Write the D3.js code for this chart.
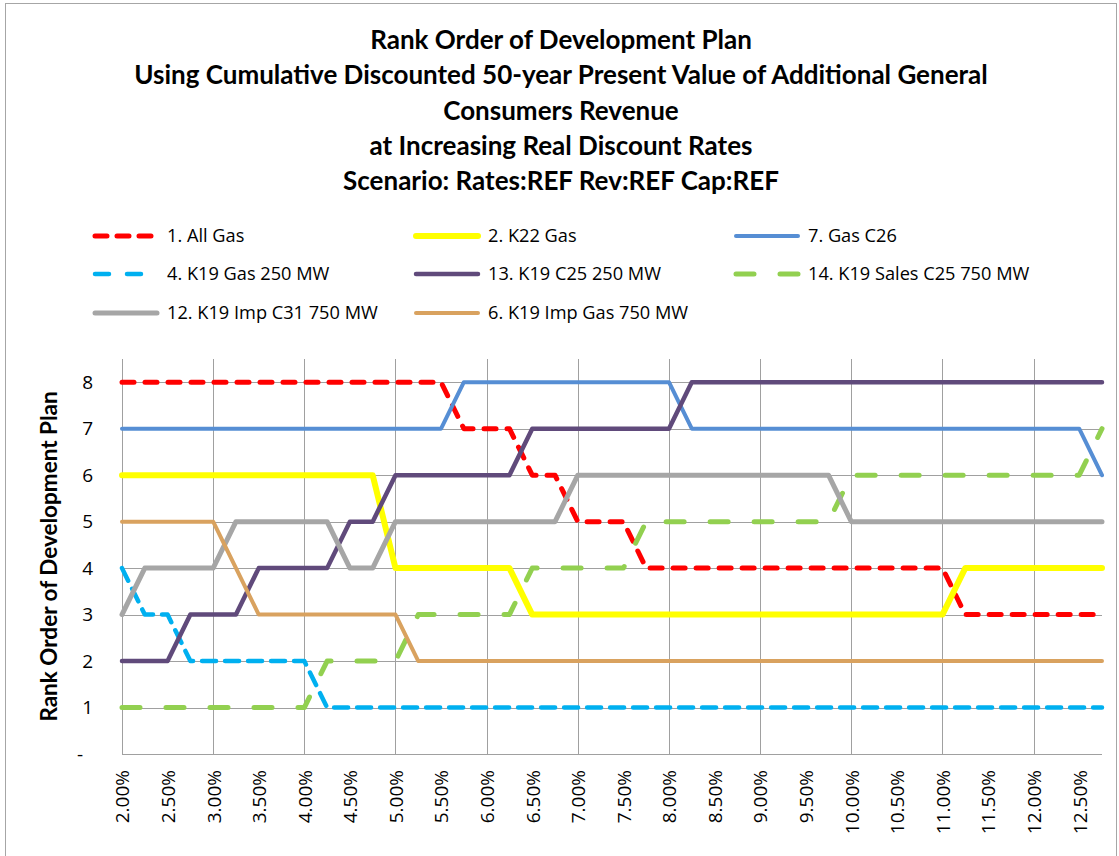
<!DOCTYPE html>
<html>
<head>
<meta charset="utf-8">
<script src="https://cdn.jsdelivr.net/npm/d3@7"></script>
<style>
  html, body { margin: 0; padding: 0; background: #fff; }
  svg { display: block; }
</style>
</head>
<body>
<div id="chart"></div>
<script>

// DATA
// --------------------------------------------------------------------------

var titleLines = [
  'Rank Order of Development Plan',
  'Using Cumulative Discounted 50-year Present Value of Additional General',
  'Consumers Revenue',
  'at Increasing Real Discount Rates',
  'Scenario: Rates:REF Rev:REF Cap:REF'
];

var yTitle = 'Rank Order of Development Plan';

var rates = [
  '2.00%', '2.25%', '2.50%', '2.75%', '3.00%', '3.25%', '3.50%', '3.75%',
  '4.00%', '4.25%', '4.50%', '4.75%', '5.00%', '5.25%', '5.50%', '5.75%',
  '6.00%', '6.25%', '6.50%', '6.75%', '7.00%', '7.25%', '7.50%', '7.75%',
  '8.00%', '8.25%', '8.50%', '8.75%', '9.00%', '9.25%', '9.50%', '9.75%',
  '10.00%', '10.25%', '10.50%', '10.75%', '11.00%', '11.25%', '11.50%',
  '11.75%', '12.00%', '12.25%', '12.50%', '12.75%'
];

var rankTicks = [0, 1, 2, 3, 4, 5, 6, 7, 8];

var allGas = [
  8, 8, 8, 8, 8, 8, 8, 8, 8, 8, 8, 8, 8, 8, 8, 7, 7, 7, 6, 6, 5, 5,
  5, 4, 4, 4, 4, 4, 4, 4, 4, 4, 4, 4, 4, 4, 4, 3, 3, 3, 3, 3, 3, 3
];
var k22Gas = [
  6, 6, 6, 6, 6, 6, 6, 6, 6, 6, 6, 6, 4, 4, 4, 4, 4, 4, 3, 3, 3, 3,
  3, 3, 3, 3, 3, 3, 3, 3, 3, 3, 3, 3, 3, 3, 3, 4, 4, 4, 4, 4, 4, 4
];
var gasC26 = [
  7, 7, 7, 7, 7, 7, 7, 7, 7, 7, 7, 7, 7, 7, 7, 8, 8, 8, 8, 8, 8, 8,
  8, 8, 8, 7, 7, 7, 7, 7, 7, 7, 7, 7, 7, 7, 7, 7, 7, 7, 7, 7, 7, 6
];
var k19Gas250 = [
  4, 3, 3, 2, 2, 2, 2, 2, 2, 1, 1, 1, 1, 1, 1, 1, 1, 1, 1, 1, 1, 1,
  1, 1, 1, 1, 1, 1, 1, 1, 1, 1, 1, 1, 1, 1, 1, 1, 1, 1, 1, 1, 1, 1
];
var k19C25250 = [
  2, 2, 2, 3, 3, 3, 4, 4, 4, 4, 5, 5, 6, 6, 6, 6, 6, 6, 7, 7, 7, 7,
  7, 7, 7, 8, 8, 8, 8, 8, 8, 8, 8, 8, 8, 8, 8, 8, 8, 8, 8, 8, 8, 8
];
var k19SalesC25750 = [
  1, 1, 1, 1, 1, 1, 1, 1, 1, 2, 2, 2, 2, 3, 3, 3, 3, 3, 4, 4, 4, 4,
  4, 5, 5, 5, 5, 5, 5, 5, 5, 5, 6, 6, 6, 6, 6, 6, 6, 6, 6, 6, 6, 7
];
var k19ImpC31750 = [
  3, 4, 4, 4, 4, 5, 5, 5, 5, 5, 4, 4, 5, 5, 5, 5, 5, 5, 5, 5, 6, 6,
  6, 6, 6, 6, 6, 6, 6, 6, 6, 6, 5, 5, 5, 5, 5, 5, 5, 5, 5, 5, 5, 5
];
var k19ImpGas750 = [
  5, 5, 5, 5, 5, 4, 3, 3, 3, 3, 3, 3, 3, 2, 2, 2, 2, 2, 2, 2, 2, 2,
  2, 2, 2, 2, 2, 2, 2, 2, 2, 2, 2, 2, 2, 2, 2, 2, 2, 2, 2, 2, 2, 2
];

var seriesNames = [
  '1. All Gas', '2. K22 Gas', '7. Gas C26',
  '4. K19 Gas 250 MW', '13. K19 C25 250 MW', '14. K19 Sales C25 750 MW',
  '12. K19 Imp C31 750 MW', '6. K19 Imp Gas 750 MW'
];

var seriesValues = [
  allGas, k22Gas, gasC26, k19Gas250, k19C25250, k19SalesC25750,
  k19ImpC31750, k19ImpGas750
];


// STYLE
// --------------------------------------------------------------------------

var styles = [
  { color: '#ff0000', width: 5,   dash: '12,11', legendDash: '12,10' },
  { color: '#ffff00', width: 6,   dash: null,    legendDash: null },
  { color: '#568ed4', width: 4,   dash: null,    legendDash: null },
  { color: '#00b0f0', width: 4.5, dash: '14,9',  legendDash: '14,18' },
  { color: '#604a7b', width: 4.5, dash: null,    legendDash: null },
  { color: '#92d050', width: 5,   dash: '18,26', legendDash: '18,26' },
  { color: '#a6a6a6', width: 5,   dash: null,    legendDash: null },
  { color: '#d9a25f', width: 4,   dash: null,    legendDash: null }
];

var W = 1119, H = 856;
var plot = { left: 122, right: 1102, top: 359, bottom: 754 };
var gridColor = '#a0a0a0';
var tickFont = '"Open Sans", sans-serif';
var titleFont = 'Lato, "Open Sans", sans-serif';


// CHART
// --------------------------------------------------------------------------

var svg = d3.select('#chart').append('svg')
  .attr('width', W)
  .attr('height', H);

// Outer chart border.
svg.append('rect')
  .attr('x', 5.5).attr('y', 3.5)
  .attr('width', 1111).attr('height', 870)
  .attr('fill', '#fff')
  .attr('stroke', '#a6a6a6');

var x = d3.scalePoint()
  .domain(rates)
  .range([plot.left, plot.right]);

var y = d3.scaleLinear()
  .domain([0, 8.5])
  .range([plot.bottom, plot.top]);

// Title block.
svg.append('g')
  .selectAll('text')
  .data(titleLines)
  .join('text')
  .attr('x', 561)
  .attr('y', function(d, i) { return 49 + i * 35.3; })
  .attr('text-anchor', 'middle')
  .style('font-family', titleFont)
  .style('font-weight', 'bold')
  .style('font-size', '26px')
  .style('fill', '#000')
  .text(function(d) { return d; });

// Horizontal gridlines.
svg.append('g')
  .selectAll('line')
  .data(rankTicks.filter(function(d) { return d > 0; }))
  .join('line')
  .attr('x1', plot.left).attr('x2', plot.right)
  .attr('y1', function(d) { return Math.round(y(d)) + 0.5; })
  .attr('y2', function(d) { return Math.round(y(d)) + 0.5; })
  .attr('stroke', gridColor);

// Vertical gridlines, one per full percent.
svg.append('g')
  .selectAll('line')
  .data(rates.filter(function(d, i) { return i % 4 === 0; }))
  .join('line')
  .attr('x1', function(d) { return Math.round(x(d)) + 0.5; })
  .attr('x2', function(d) { return Math.round(x(d)) + 0.5; })
  .attr('y1', plot.top).attr('y2', plot.bottom)
  .attr('stroke', gridColor);

// Axis lines.
svg.append('line')
  .attr('x1', plot.left + 0.5).attr('x2', plot.left + 0.5)
  .attr('y1', plot.top).attr('y2', plot.bottom)
  .attr('stroke', gridColor);
svg.append('line')
  .attr('x1', plot.left).attr('x2', plot.right)
  .attr('y1', plot.bottom + 0.5).attr('y2', plot.bottom + 0.5)
  .attr('stroke', gridColor);

// X axis labels (every other rate).
var xAxis = svg.append('g')
  .attr('transform', 'translate(0,' + plot.bottom + ')')
  .call(d3.axisBottom(x)
    .tickValues(rates.filter(function(d, i) { return i % 2 === 0; }))
    .tickSize(0));
xAxis.select('.domain').remove();
xAxis.selectAll('text')
  .attr('x', -16)
  .attr('y', 0)
  .attr('dy', '0.36em')
  .attr('transform', 'rotate(-90)')
  .style('text-anchor', 'end')
  .style('font-family', tickFont)
  .style('font-size', '19px')
  .style('fill', '#000');

// Y axis labels.
var yAxis = svg.append('g')
  .attr('transform', 'translate(' + plot.left + ',0)')
  .call(d3.axisLeft(y)
    .tickValues(rankTicks)
    .tickSize(0)
    .tickPadding(29)
    .tickFormat(function(d) { return d === 0 ? '-\u00a0\u00a0' : d; }));
yAxis.select('.domain').remove();
yAxis.selectAll('text')
  .style('font-family', tickFont)
  .style('font-size', '19px')
  .style('fill', '#000');

// Y axis title.
svg.append('text')
  .attr('transform', 'translate(57,' + ((plot.top + plot.bottom) / 2) +
    ') rotate(-90)')
  .attr('text-anchor', 'middle')
  .style('font-family', titleFont)
  .style('font-weight', 'bold')
  .style('font-size', '22.5px')
  .text(yTitle);

// Series lines, drawn in legend order.
var line = d3.line()
  .x(function(d, i) { return x(rates[i]); })
  .y(function(d) { return y(d); });

svg.append('g')
  .selectAll('path')
  .data(seriesValues)
  .join('path')
  .attr('d', line)
  .attr('fill', 'none')
  .attr('stroke', function(d, i) { return styles[i].color; })
  .attr('stroke-width', function(d, i) { return styles[i].width; })
  .attr('stroke-dasharray', function(d, i) { return styles[i].dash; })
  .attr('stroke-linecap', 'round')
  .attr('stroke-linejoin', 'round');


// LEGEND
// --------------------------------------------------------------------------

var legendCols = [93, 414, 734];
var legendRows = [236, 274, 313];

var legend = svg.append('g')
  .selectAll('g')
  .data(seriesNames)
  .join('g')
  .attr('transform', function(d, i) {
    return 'translate(' + legendCols[i % 3] + ',' + legendRows[Math.floor(i / 3)] + ')';
  });

legend.append('line')
  .attr('x1', 2).attr('x2', 64)
  .attr('y1', 0).attr('y2', 0)
  .attr('stroke', function(d, i) { return styles[i].color; })
  .attr('stroke-width', function(d, i) { return styles[i].width; })
  .attr('stroke-dasharray', function(d, i) { return styles[i].legendDash; })
  .attr('stroke-linecap', 'round');

legend.append('text')
  .attr('x', 74)
  .attr('dy', '0.35em')
  .style('font-family', tickFont)
  .style('font-size', '18.2px')
  .style('fill', '#000')
  .text(function(d) { return d; });

</script>
</body>
</html>
